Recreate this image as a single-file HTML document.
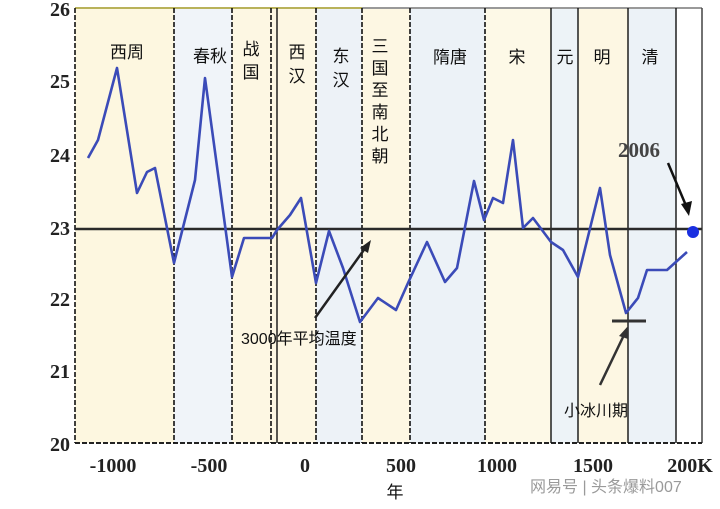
<!DOCTYPE html><html><head><meta charset="utf-8"><style>
body{margin:0;background:#fff;width:720px;height:504px;overflow:hidden}
svg text{font-family:"Liberation Sans","Noto Sans CJK SC",sans-serif}
svg .t text, svg text.t{font-family:"Liberation Serif",serif;font-weight:bold;font-size:20px;fill:#222}
.p{font-size:17px;fill:#111}
</style></head><body>
<svg width="720" height="504" viewBox="0 0 720 504">
<rect x="75" y="8" width="99" height="435" fill="#fdf7e0"/>
<rect x="174" y="8" width="58" height="435" fill="#f0f4f9"/>
<rect x="232" y="8" width="45" height="435" fill="#fdf7e3"/>
<rect x="277" y="8" width="39" height="435" fill="#fdf7e3"/>
<rect x="316" y="8" width="46" height="435" fill="#edf2f7"/>
<rect x="362" y="8" width="48" height="435" fill="#fdf7e3"/>
<rect x="410" y="8" width="75" height="435" fill="#ecf2f7"/>
<rect x="485" y="8" width="66" height="435" fill="#fdf9e7"/>
<rect x="551" y="8" width="27" height="435" fill="#edf3f7"/>
<rect x="578" y="8" width="50" height="435" fill="#fdf7e3"/>
<rect x="628" y="8" width="48" height="435" fill="#ecf2f7"/>
<line x1="75" y1="8" x2="362" y2="8" stroke="#b9b25a" stroke-width="2"/>
<line x1="362" y1="8" x2="702" y2="8" stroke="#999" stroke-width="2"/>
<line x1="702" y1="8" x2="702" y2="443" stroke="#444" stroke-width="1.5"/>
<line x1="75" y1="443" x2="702" y2="443" stroke="#222" stroke-width="2" stroke-dasharray="5,2"/>
<g stroke="#111" stroke-width="1.6" stroke-dasharray="5,2">
<line x1="75" y1="8" x2="75" y2="443"/><line x1="174" y1="8" x2="174" y2="443"/><line x1="232" y1="8" x2="232" y2="443"/><line x1="271" y1="8" x2="271" y2="443"/><line x1="316" y1="8" x2="316" y2="443"/><line x1="362" y1="8" x2="362" y2="443"/><line x1="410" y1="8" x2="410" y2="443"/><line x1="485" y1="8" x2="485" y2="443"/>
</g>
<g stroke="#111" stroke-width="1.4">
<line x1="277" y1="8" x2="277" y2="443"/><line x1="551" y1="8" x2="551" y2="443"/><line x1="578" y1="8" x2="578" y2="443"/><line x1="628" y1="8" x2="628" y2="443"/><line x1="676" y1="8" x2="676" y2="443"/>
</g>
<line x1="75" y1="229" x2="702" y2="229" stroke="#2a2a2a" stroke-width="2.5"/>
<polyline fill="none" stroke="#3b4bb8" stroke-width="2.6" stroke-linejoin="round" points="88,158 98,140 117,68 137,193 147,172 155,168 174,263 195,180 205,78 232,277 244,238 272,238 277,230 290,215 301,198 316,283 329,231 343,268 360,322 378,298 396,310 408,283 427,242 445,282 457,268 474,181 484,220 493,198 503,203 513,140 523,228 533,218 551,242 563,250 578,277 600,188 610,255 626,313 638,298 647,270 667,270 687,252"/>
<circle cx="693" cy="232" r="6" fill="#1a2fe0"/>
<g class="t" text-anchor="end"><text x="70" y="16">26</text><text x="70" y="88">25</text><text x="70" y="162">24</text><text x="70" y="235">23</text><text x="70" y="306">22</text><text x="70" y="378">21</text><text x="70" y="451">20</text></g>
<g class="t" text-anchor="middle"><text x="113" y="472">-1000</text><text x="209" y="472">-500</text><text x="305" y="472">0</text><text x="401" y="472">500</text><text x="497" y="472">1000</text><text x="593" y="472">1500</text><text x="690" y="472">200K</text></g>
<text x="395" y="498" font-size="17" text-anchor="middle" fill="#111">年</text>
<g class="p" text-anchor="middle">
<text x="127" y="58">西周</text><text x="210" y="62">春秋</text>
<text x="251" y="55">战</text><text x="251" y="78">国</text>
<text x="297" y="58">西</text><text x="297" y="82">汉</text>
<text x="341" y="62">东</text><text x="341" y="86">汉</text>
<text x="380" y="52">三</text><text x="380" y="74">国</text><text x="380" y="96">至</text><text x="380" y="118">南</text><text x="380" y="140">北</text><text x="380" y="162">朝</text>
<text x="450" y="63">隋唐</text><text x="517" y="63">宋</text><text x="565" y="63">元</text><text x="602" y="63">明</text><text x="650" y="63">清</text>
</g>
<text x="618" y="157" class="t" style="font-size:21px;fill:#444">2006</text>
<line x1="668" y1="163" x2="687" y2="208" stroke="#111" stroke-width="2.5"/><polygon points="689,216 681,204 692,201" fill="#111"/>
<line x1="315" y1="318" x2="366" y2="247" stroke="#222" stroke-width="2.5"/><polygon points="371,240 360,248 368,253" fill="#222"/>
<text x="241" y="344" font-size="16" fill="#111">3000年平均温度</text>
<line x1="612" y1="321" x2="646" y2="321" stroke="#333" stroke-width="3"/>
<line x1="600" y1="385" x2="624" y2="335" stroke="#333" stroke-width="2.5"/><polygon points="628,326 619,336 628,339" fill="#333"/>
<text x="564" y="416" font-size="16" fill="#111">小冰川期</text>
<text x="530" y="492" font-size="16" fill="#9a9a9a">网易号 | 头条爆料007</text>
</svg></body></html>
